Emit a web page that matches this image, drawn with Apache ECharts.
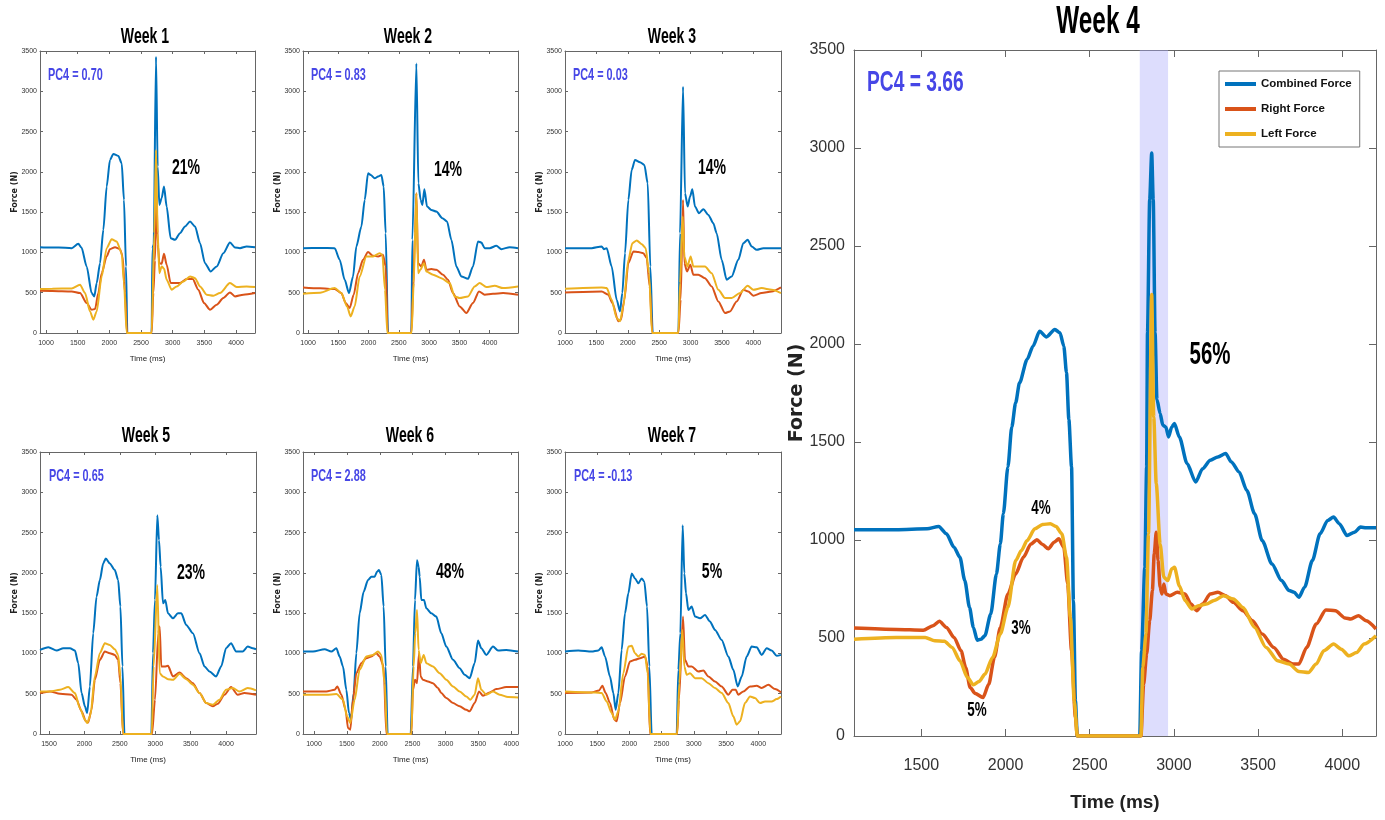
<!DOCTYPE html>
<html>
<head>
<meta charset="utf-8">
<script src="https://cdn.jsdelivr.net/npm/echarts@6/dist/echarts.min.js"></script>
<style>html,body{margin:0;padding:0;background:#fff}#c{width:1385px;height:820px}</style>
</head>
<body>
<div id="c"></div>
<script>
// ---------- DATA (time ms, force N) ----------
const seriesNames = ['Combined Force', 'Right Force', 'Left Force'];
const forceTicks = [0, 500, 1000, 1500, 2000, 2500, 3000, 3500];
const timeTicksA = [1000, 1500, 2000, 2500, 3000, 3500, 4000];
const timeTicksB = [1500, 2000, 2500, 3000, 3500, 4000];
const pc4Labels = ['PC4 = 0.70', 'PC4 = 0.83', 'PC4 = 0.03', 'PC4 = 0.65', 'PC4 = 2.88', 'PC4 = -0.13', 'PC4 = 3.66'];
const pctLabels = ['21%', '14%', '14%', '23%', '48%', '5%', '56%'];
const weekTitles = ['Week 1', 'Week 2', 'Week 3', 'Week 5', 'Week 6', 'Week 7', 'Week 4'];
const week4Phase = ['4%', '3%', '5%'];
const week4Shade = [2797, 2965];

const w1Combined = [[905,1065],[1000,1060],[1200,1062],[1405,1053],[1510,1107],[1560,1060],[1642,826],[1721,496],[1763,454],[1800,620],[1853,867],[1905,1280],[1958,1817],[2010,2148],[2063,2222],[2142,2197],[2195,2106],[2231,1652],[2263,826],[2284,0],[2668,0],[2680,1050],[2700,1100],[2737,3428],[2763,2065],[2790,1590],[2826,1673],[2863,1817],[2905,1569],[2968,1177],[3037,1156],[3116,1239],[3195,1322],[3274,1384],[3353,1322],[3432,1115],[3510,867],[3600,764],[3695,826],[3800,991],[3905,1123],[3984,1061],[4063,1053],[4168,1074],[4300,1065]];
const w1Right = [[905,524],[1100,522],[1405,516],[1537,496],[1642,372],[1721,289],[1774,297],[1826,496],[1879,743],[1958,950],[2010,1041],[2090,1065],[2168,1041],[2210,950],[2247,496],[2279,0],[2668,0],[2695,496],[2720,900],[2745,1700],[2765,1100],[2790,867],[2826,860],[2863,983],[2905,847],[2968,620],[3116,620],[3221,669],[3316,669],[3405,537],[3495,372],[3590,289],[3695,351],[3800,434],[3905,504],[3984,454],[4116,475],[4300,496]];
const w1Left = [[905,545],[1100,550],[1405,553],[1537,599],[1616,496],[1695,268],[1747,165],[1800,268],[1879,702],[1958,1053],[2037,1165],[2116,1136],[2195,991],[2231,620],[2274,0],[2668,0],[2710,1239],[2737,2270],[2763,1239],[2790,743],[2826,826],[2863,800],[2905,661],[2984,537],[3063,578],[3168,640],[3274,702],[3353,681],[3432,578],[3537,475],[3642,463],[3747,496],[3905,620],[4010,570],[4168,578],[4300,570]];

const w2Combined = [[917,1053],[1200,1055],[1440,1053],[1523,909],[1605,661],[1677,496],[1743,702],[1798,1074],[1881,1322],[1936,1652],[1991,1982],[2035,1962],[2101,1920],[2156,1941],[2211,1962],[2249,1817],[2282,1239],[2321,0],[2706,0],[2723,1156],[2789,3345],[2822,1858],[2860,1652],[2888,1590],[2921,1784],[2965,1569],[3036,1528],[3119,1507],[3218,1425],[3295,1384],[3367,1156],[3449,826],[3532,702],[3642,673],[3724,826],[3807,1136],[3862,1123],[3917,1053],[3999,1053],[4110,1082],[4192,1041],[4330,1065],[4467,1053]];
const w2Right = [[917,566],[1200,555],[1440,545],[1550,496],[1622,372],[1688,310],[1754,475],[1826,743],[1908,909],[1991,1004],[2073,958],[2156,950],[2238,970],[2282,826],[2315,0],[2706,0],[2734,496],[2767,1239],[2789,1735],[2817,867],[2871,826],[2915,909],[2954,785],[3036,793],[3119,785],[3229,723],[3311,661],[3394,496],[3504,330],[3614,248],[3724,372],[3823,516],[3917,475],[4054,487],[4220,496],[4467,475]];
const w2Left = [[917,487],[1200,500],[1440,557],[1550,496],[1644,330],[1704,206],[1770,330],[1853,702],[1963,950],[2073,950],[2183,991],[2227,970],[2271,537],[2310,0],[2710,0],[2745,620],[2789,1735],[2817,743],[2855,785],[2915,867],[2954,764],[3064,723],[3201,681],[3339,620],[3421,454],[3504,434],[3642,454],[3752,578],[3834,620],[3944,570],[4082,586],[4220,557],[4467,578]];

const w3Combined = [[1000,1053],[1425,1053],[1584,1074],[1620,1040],[1664,1053],[1743,826],[1823,413],[1876,268],[1913,496],[1956,991],[2009,1652],[2062,2024],[2115,2148],[2195,2119],[2264,2086],[2317,1859],[2359,826],[2397,0],[2806,0],[2832,1239],[2880,3056],[2911,1735],[2954,1569],[2991,1693],[3028,1784],[3070,1569],[3134,1487],[3203,1536],[3283,1466],[3362,1363],[3415,1239],[3495,909],[3575,661],[3654,702],[3760,909],[3840,1115],[3909,1156],[3973,1074],[4053,1032],[4159,1053],[4292,1053],[4440,1053]];
const w3Right = [[1000,504],[1584,516],[1690,475],[1754,372],[1850,145],[1892,165],[1945,413],[2009,867],[2089,1012],[2168,1004],[2248,991],[2301,929],[2349,578],[2391,0],[2806,0],[2842,413],[2880,1652],[2901,867],[2943,764],[2996,847],[3044,723],[3123,723],[3229,681],[3336,578],[3442,392],[3548,248],[3628,268],[3734,392],[3840,537],[3919,516],[3999,463],[4132,496],[4292,516],[4440,566]];
const w3Left = [[1000,549],[1584,566],[1664,557],[1743,413],[1823,186],[1876,145],[1929,330],[2009,909],[2073,1115],[2142,1148],[2222,1103],[2285,1053],[2338,743],[2386,0],[2806,0],[2832,620],[2874,1446],[2901,950],[2949,826],[3001,950],[3044,826],[3123,826],[3229,826],[3336,743],[3442,537],[3548,434],[3654,434],[3787,496],[3909,586],[3999,537],[4132,557],[4292,537],[4440,496]];

const w5Combined = [[1373,1044],[1491,1077],[1608,1036],[1702,1065],[1796,1065],[1866,1036],[1913,879],[1960,508],[2007,343],[2039,260],[2077,590],[2124,1250],[2171,1704],[2218,1911],[2265,2117],[2302,2179],[2358,2117],[2429,2035],[2476,1911],[2508,1581],[2537,838],[2565,0],[2945,0],[2968,1003],[2996,1663],[3029,2716],[3053,2406],[3076,2076],[3109,1622],[3142,1663],[3179,1498],[3250,1436],[3320,1498],[3367,1498],[3437,1354],[3531,1250],[3625,1003],[3695,838],[3766,776],[3859,714],[3930,838],[4000,1065],[4070,1127],[4141,1024],[4234,1024],[4305,1085],[4375,1065],[4422,1052]];
const w5Right = [[1373,508],[1514,528],[1655,499],[1819,487],[1889,425],[1960,281],[2021,157],[2053,144],[2100,301],[2147,673],[2218,920],[2288,1023],[2358,1003],[2429,982],[2476,920],[2508,631],[2546,0],[2954,0],[2996,425],[3043,1250],[3062,1333],[3085,838],[3132,838],[3179,846],[3250,714],[3343,763],[3437,693],[3531,631],[3625,508],[3719,384],[3812,343],[3883,376],[3977,487],[4070,582],[4164,487],[4258,508],[4422,487]];
const w5Left = [[1373,528],[1514,528],[1655,549],[1772,582],[1866,508],[1936,322],[2007,177],[2039,136],[2086,239],[2147,714],[2218,1003],[2288,1127],[2358,1106],[2429,1052],[2476,982],[2508,714],[2546,0],[2950,0],[2977,838],[3029,1849],[3062,755],[3109,714],[3179,681],[3250,673],[3343,747],[3437,681],[3531,611],[3625,508],[3719,384],[3812,363],[3906,425],[4000,549],[4094,570],[4188,528],[4305,570],[4422,541]];

const w6Combined = [[833,1023],[985,1023],[1162,1052],[1264,1023],[1340,1065],[1390,962],[1441,838],[1492,549],[1532,260],[1563,177],[1603,508],[1644,1003],[1694,1498],[1755,1766],[1821,1911],[1872,1952],[1922,1952],[1958,2014],[1988,2035],[2024,1973],[2059,1581],[2090,838],[2120,0],[2470,0],[2505,838],[2536,1663],[2566,2158],[2591,2076],[2607,1952],[2632,1663],[2673,1663],[2708,1560],[2784,1498],[2860,1457],[2936,1250],[3012,1085],[3114,920],[3215,817],[3291,735],[3367,693],[3443,879],[3494,1160],[3544,1065],[3620,982],[3722,1085],[3798,1036],[3924,1044],[4102,1023]];
const w6Right = [[833,528],[1188,528],[1314,549],[1355,590],[1416,487],[1481,301],[1517,74],[1552,54],[1593,425],[1644,755],[1720,879],[1796,941],[1872,962],[1948,1003],[1998,962],[2059,838],[2100,0],[2480,0],[2505,549],[2536,673],[2566,631],[2597,1003],[2622,714],[2657,673],[2733,652],[2809,631],[2885,570],[2936,508],[3012,446],[3114,384],[3215,343],[3316,301],[3367,281],[3443,384],[3509,528],[3570,475],[3671,516],[3772,557],[3924,582],[4102,582]];
const w6Left = [[833,487],[1188,487],[1340,495],[1441,425],[1502,219],[1552,136],[1618,425],[1694,797],[1796,962],[1897,982],[1973,1023],[2024,982],[2075,631],[2110,0],[2480,0],[2515,838],[2540,1250],[2566,1539],[2591,1044],[2622,879],[2668,982],[2708,879],[2809,838],[2911,755],[3012,673],[3114,590],[3215,528],[3316,466],[3377,425],[3443,487],[3494,693],[3544,549],[3620,487],[3722,528],[3823,487],[3950,458],[4102,454]];

const w7Combined = [[1000,1023],[1207,1036],[1414,1023],[1517,1036],[1569,1077],[1621,962],[1698,714],[1750,508],[1786,301],[1828,508],[1879,1044],[1931,1498],[1983,1746],[2035,1993],[2086,1931],[2138,1870],[2190,1931],[2231,1890],[2273,1581],[2309,838],[2345,0],[2733,0],[2759,797],[2790,1250],[2826,2592],[2852,1993],[2878,1746],[2914,1539],[2966,1581],[3018,1457],[3095,1436],[3173,1477],[3250,1395],[3328,1292],[3431,1168],[3535,962],[3612,797],[3680,590],[3742,714],[3819,962],[3897,1085],[3975,1077],[4052,982],[4130,1065],[4207,1036],[4285,970],[4352,982]];
const w7Right = [[1000,508],[1414,516],[1528,541],[1580,598],[1631,508],[1698,384],[1766,177],[1802,157],[1854,384],[1931,714],[2009,900],[2086,920],[2164,941],[2242,962],[2283,838],[2319,0],[2740,0],[2769,425],[2831,1457],[2862,920],[2914,838],[2966,838],[3069,776],[3147,788],[3225,714],[3328,652],[3431,590],[3535,487],[3597,549],[3649,549],[3690,487],[3768,528],[3871,590],[3975,598],[4052,570],[4156,611],[4259,557],[4352,516]];
const w7Left = [[1000,528],[1466,516],[1569,508],[1647,404],[1724,260],[1776,177],[1828,281],[1905,755],[1983,1085],[2035,1094],[2086,1003],[2138,962],[2190,995],[2242,982],[2283,755],[2324,0],[2740,0],[2774,631],[2821,1292],[2852,838],[2888,735],[2940,755],[3018,693],[3121,693],[3225,631],[3328,570],[3431,508],[3535,384],[3612,219],[3664,116],[3716,157],[3793,384],[3871,466],[3949,446],[4026,384],[4104,404],[4207,404],[4285,433],[4352,466]];

const w4Combined = [[1100,1052],[1351,1052],[1534,1057],[1603,1069],[1649,1032],[1694,963],[1729,912],[1758,793],[1786,656],[1809,554],[1832,489],[1854,494],[1877,511],[1912,622],[1946,827],[1969,980],[1987,1134],[2014,1373],[2037,1577],[2060,1700],[2083,1802],[2128,1921],[2163,1989],[2202,2065],[2243,2036],[2293,2074],[2323,2057],[2346,1989],[2362,1853],[2376,1615],[2392,1373],[2403,690],[2415,179],[2426,0],[2797,0],[2808,435],[2827,861],[2838,1373],[2843,2057],[2856,2736],[2868,2974],[2877,2736],[2888,2057],[2899,1717],[2918,1645],[2934,1586],[2952,1577],[2968,1526],[2987,1577],[3003,1594],[3032,1526],[3078,1390],[3129,1296],[3170,1364],[3216,1407],[3261,1424],[3307,1441],[3341,1398],[3387,1347],[3433,1253],[3479,1134],[3524,997],[3582,878],[3639,793],[3684,742],[3714,733],[3742,708],[3776,759],[3822,895],[3868,1032],[3913,1100],[3948,1117],[3982,1083],[4028,1023],[4073,1040],[4108,1066],[4142,1062],[4200,1062]];
const w4Right = [[1100,551],[1351,544],[1511,540],[1569,563],[1607,585],[1649,554],[1694,503],[1736,435],[1763,350],[1790,247],[1820,217],[1866,196],[1900,264],[1934,401],[1969,554],[2014,725],[2060,827],[2106,912],[2151,980],[2186,1001],[2220,977],[2254,955],[2289,989],[2316,1006],[2346,963],[2369,776],[2392,435],[2415,94],[2426,0],[2804,0],[2820,264],[2838,418],[2856,588],[2872,742],[2883,929],[2895,1040],[2906,895],[2918,759],[2929,725],[2940,776],[2952,725],[2975,716],[3020,733],[3066,725],[3101,673],[3135,639],[3170,673],[3216,725],[3261,733],[3307,716],[3353,682],[3410,639],[3467,588],[3524,520],[3593,452],[3650,392],[3707,367],[3742,367],[3788,452],[3845,571],[3902,643],[3959,639],[4016,602],[4051,597],[4096,614],[4142,588],[4200,546]];
const w4Left = [[1100,494],[1351,503],[1523,503],[1580,486],[1637,483],[1683,452],[1729,384],[1774,298],[1809,261],[1843,278],[1877,315],[1923,401],[1969,520],[2014,656],[2060,895],[2094,946],[2128,997],[2174,1057],[2220,1079],[2266,1083],[2300,1069],[2334,1032],[2362,912],[2385,605],[2408,179],[2426,0],[2804,0],[2815,350],[2834,520],[2849,1032],[2868,2252],[2880,1628],[2895,1287],[2918,980],[2940,810],[2963,793],[2987,853],[3003,861],[3032,767],[3066,691],[3107,648],[3147,665],[3193,673],[3238,691],[3295,716],[3353,699],[3410,656],[3479,554],[3547,452],[3616,384],[3684,367],[3742,329],[3799,324],[3845,367],[3890,435],[3948,469],[3994,443],[4039,409],[4085,426],[4130,469],[4200,511]];

// ---------- LAYOUT ----------
const SANS = "'Liberation Sans',Arial,sans-serif";
const NARROW_X = 0.64; // horizontal squeeze for the tall condensed annotation lettering
const COLORS = ['#0072BD', '#D95319', '#EDB120'];
const panels = [
  {data:[w1Combined,w1Right,w1Left], min:905,  max:4300, ticks:timeTicksA, box:{left:40, top:51, width:215, height:282}},
  {data:[w2Combined,w2Right,w2Left], min:917,  max:4467, ticks:timeTicksA, box:{left:303, top:51, width:215, height:282}},
  {data:[w3Combined,w3Right,w3Left], min:1000, max:4440, ticks:timeTicksA, box:{left:565, top:51, width:216, height:282}},
  {data:[w5Combined,w5Right,w5Left], min:1373, max:4422, ticks:timeTicksB, box:{left:40, top:452, width:216, height:282}},
  {data:[w6Combined,w6Right,w6Left], min:833,  max:4102, ticks:timeTicksA, box:{left:303, top:452, width:215, height:282}},
  {data:[w7Combined,w7Right,w7Left], min:1000, max:4352, ticks:timeTicksA, box:{left:565, top:452, width:216, height:282}},
  {data:[w4Combined,w4Right,w4Left], min:1100, max:4200, ticks:timeTicksB, box:{left:854, top:50, width:522, height:686}, big:true}
];
// annotation pixel positions (layout)
const titlePos = [[145,37],[408,37],[672,37],[146,436],[410,436],[672,436],[1098,23]];
const pcPos = [[48,75],[311,75],[573,75],[49,476],[311,476],[574,476],[867,83]];
const pctPos = [[186,168],[448,170],[712,168],[191,573],[450,572],[712,572],[1210,355]];
const phasePos = [[1041,508],[1021,628],[977,710]];

const plain = v => String(v);
const grid = [], xAxis = [], yAxis = [], series = [], graphic = [];
const axisCol = '#666';
function txt(x, y, text, size, fill, align) {
  return {type:'text', x, y, scaleX:NARROW_X, scaleY:1, z:100,
    style:{text, fill, font:`bold ${size}px ${SANS}`, align, verticalAlign:'middle', textAlign:align, textVerticalAlign:'middle'}};
}
panels.forEach((p, i) => {
  const big = !!p.big;
  grid.push(Object.assign({containLabel:false}, p.box));
  const lblFont = big ? 16 : 7;
  const tickLen = big ? 7 : 3;
  xAxis.push({
    type:'value', gridIndex:i, min:p.min, max:p.max, position:'bottom',
    axisLine:{show:true, onZero:false, lineStyle:{color:axisCol, width:1}},
    axisTick:{show:true, inside:true, length:tickLen, customValues:p.ticks, lineStyle:{color:axisCol}},
    axisLabel:{customValues:p.ticks, formatter:plain, fontSize:lblFont, color:'#333', fontFamily:SANS, margin: big ? 22 : 7},
    splitLine:{show:false},
    name:'Time (ms)', nameLocation:'middle', nameGap: big ? 57 : 22, nameMoveOverlap:false,
    nameTextStyle:{fontFamily:SANS, fontSize: big ? 19 : 8, fontWeight: big ? 'bold' : 'normal', color:'#222'}
  });
  xAxis.push({
    type:'value', gridIndex:i, min:p.min, max:p.max, position:'top',
    axisLine:{show:true, onZero:false, lineStyle:{color:axisCol, width:1}},
    axisTick:{show:true, inside:true, length:tickLen, customValues:p.ticks, lineStyle:{color:axisCol}},
    axisLabel:{show:false}, splitLine:{show:false}
  });
  yAxis.push({
    type:'value', gridIndex:i, min:forceTicks[0], max:forceTicks[forceTicks.length-1], interval:500, position:'left',
    axisLine:{show:true, onZero:false, lineStyle:{color:axisCol, width:1}},
    axisTick:{show:true, inside:true, length:tickLen, lineStyle:{color:axisCol}},
    axisLabel:{formatter:plain, fontSize:lblFont, color:'#333', fontFamily:SANS, margin: big ? 9 : 3},
    splitLine:{show:false},
    name:'Force (N)', nameLocation:'middle', nameGap: big ? 47 : 21, nameMoveOverlap:false,
    nameTextStyle:{fontFamily:"'DejaVu Sans',sans-serif", fontSize: big ? 19 : 8, fontWeight:'bold', color:'#222'}
  });
  yAxis.push({
    type:'value', gridIndex:i, min:0, max:3500, interval:500, position:'right',
    axisLine:{show:true, onZero:false, lineStyle:{color:axisCol, width:1}},
    axisTick:{show:true, inside:true, length:tickLen, lineStyle:{color:axisCol}},
    axisLabel:{show:false}, splitLine:{show:false}
  });
  p.data.forEach((d, k) => {
    series.push({
      type:'line', name:seriesNames[k], xAxisIndex:2*i, yAxisIndex:2*i, data:d,
      showSymbol:false, symbol:'none', smooth:0.25, smoothMonotone:'x',
      lineStyle:{color:COLORS[k], width: big ? 3.5 : 2}, itemStyle:{color:COLORS[k]},
      z:2 + k * 0.01, animation:false
    });
  });
  graphic.push(txt(titlePos[i][0], titlePos[i][1], weekTitles[i], big ? 38 : 22, '#000', 'center'));
  graphic.push(txt(pcPos[i][0], pcPos[i][1], pc4Labels[i], big ? 30 : 17, '#4646e6', 'left'));
  graphic.push(txt(pctPos[i][0], pctPos[i][1], pctLabels[i], big ? 32 : 22, '#000', 'center'));
});
week4Phase.forEach((t, j) => {
  graphic.push(txt(phasePos[j][0], phasePos[j][1], t, 21, '#000', 'center'));
});
// shaded impact window on Week 4 (drawn over the lines, semi-transparent)
series.push({
  type:'line', name:'shade', xAxisIndex:12, yAxisIndex:12, data:[], z:5, silent:true, animation:false,
  markArea:{silent:true, itemStyle:{color:'rgba(170,170,250,0.4)', opacity:1, borderWidth:0},
    data:[[{xAxis:week4Shade[0]}, {xAxis:week4Shade[1]}]]}
});

const chart = echarts.init(document.getElementById('c'), null, {renderer:'canvas'});
chart.setOption({
  animation:false,
  backgroundColor:'#fff',
  grid, xAxis, yAxis, series, graphic,
  legend:{
    data:seriesNames, orient:'vertical', left:1219, top:71,
    icon:'rect', itemWidth:31, itemHeight:4, itemGap:13,
    padding:[7,8,7,6], borderColor:'#777', borderWidth:1, backgroundColor:'#fff',
    textStyle:{fontFamily:SANS, fontSize:11.5, fontWeight:'bold', color:'#111'},
    selectedMode:false, z:10
  }
});
</script>
</body>
</html>
